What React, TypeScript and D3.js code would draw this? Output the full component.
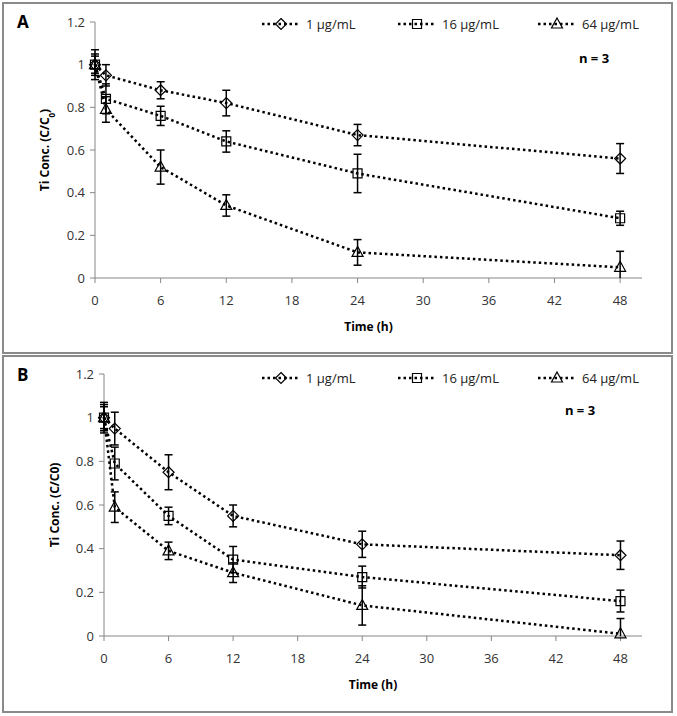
import React, { useEffect, useRef } from 'react';
import * as d3 from 'd3';

// hours
const times = [0, 1, 6, 12, 24, 48];
const seriesNames = ['1 µg/mL', '16 µg/mL', '64 µg/mL'];
const seriesShapes = ['diamond', 'square', 'triangle'];
const xTicks = [0, 6, 12, 18, 24, 30, 36, 42, 48];
const yTicks = [0, 0.2, 0.4, 0.6, 0.8, 1, 1.2];

// panel A
const aLow = [1.0, 0.95, 0.88, 0.82, 0.67, 0.56];
const aMid = [1.0, 0.84, 0.76, 0.64, 0.49, 0.28];
const aHigh = [1.0, 0.79, 0.52, 0.34, 0.12, 0.05];
const aLowErr = [0.07, 0.05, 0.04, 0.06, 0.05, 0.07];
const aMidErr = [0.05, 0.07, 0.045, 0.05, 0.09, 0.033];
const aHighErr = [0.04, 0.06, 0.08, 0.05, 0.06, 0.075];

// panel B
const bLow = [1.0, 0.95, 0.75, 0.55, 0.42, 0.37];
const bMid = [1.0, 0.79, 0.55, 0.35, 0.27, 0.16];
const bHigh = [1.0, 0.59, 0.39, 0.29, 0.14, 0.01];
const bLowErr = [0.07, 0.075, 0.08, 0.05, 0.06, 0.065];
const bMidErr = [0.06, 0.075, 0.04, 0.06, 0.05, 0.05];
const bHighErr = [0.05, 0.07, 0.04, 0.045, 0.09, 0.07];

const FONT = '"Open Sans", sans-serif';

type Panel = {
  letter: string;
  frame: { x: number; y: number; w: number; h: number };
  plot: { left: number; right: number; top: number; bottom: number };
  yTitle: 'sub' | 'plain';
  yTitleX: number;
  values: number[][];
  errors: number[][];
  legendY: number;
  nX: number;
  nY: number;
};

const panels: Panel[] = [
  {
    letter: 'A',
    frame: { x: 3, y: 3, w: 669, h: 350 },
    plot: { left: 95, right: 642, top: 22, bottom: 278 },
    yTitle: 'sub',
    yTitleX: 45,
    values: [aLow, aMid, aHigh],
    errors: [aLowErr, aMidErr, aHighErr],
    legendY: 24,
    nX: 594,
    nY: 58,
  },
  {
    letter: 'B',
    frame: { x: 3, y: 356, w: 669, h: 356 },
    plot: { left: 104, right: 642, top: 374, bottom: 636 },
    yTitle: 'plain',
    yTitleX: 55,
    values: [bLow, bMid, bHigh],
    errors: [bLowErr, bMidErr, bHighErr],
    legendY: 378,
    nX: 580,
    nY: 410,
  },
];

const drawMarker = (g: any, shape: string, cx: number, cy: number) => {
  const m = g.append('path')
    .attr('fill', 'none')
    .attr('stroke', '#000')
    .attr('stroke-width', 1.2);
  if (shape === 'diamond') {
    m.attr('d', `M${cx},${cy - 5.5}L${cx + 5.5},${cy}L${cx},${cy + 5.5}L${cx - 5.5},${cy}Z`);
  } else if (shape === 'square') {
    m.attr('d', `M${cx - 4.5},${cy - 4.5}h9v9h-9Z`);
  } else {
    m.attr('d', `M${cx},${cy - 6}L${cx + 5.5},${cy + 4}L${cx - 5.5},${cy + 4}Z`);
  }
};

const App = () => {
  const ref = useRef<SVGSVGElement>(null);

  useEffect(() => {
    const svg = d3.select(ref.current);
    svg.selectAll('*').remove();

    svg.append('rect').attr('width', 677).attr('height', 716).attr('fill', '#fff');

    panels.forEach(p => {
      const g = svg.append('g');
      g.append('rect')
        .attr('x', p.frame.x).attr('y', p.frame.y)
        .attr('width', p.frame.w).attr('height', p.frame.h)
        .attr('fill', '#fff').attr('stroke', '#8a8a8a').attr('stroke-width', 2);

      const x = d3.scaleLinear().domain([0, 50]).range([p.plot.left, p.plot.right]);
      const y = d3.scaleLinear().domain([0, 1.2]).range([p.plot.bottom, p.plot.top]).clamp(true);

      // axes, Excel style: grey lines, ticks outside
      const axisColor = '#868686';
      g.append('line')
        .attr('x1', x(0)).attr('x2', x(0)).attr('y1', y(0)).attr('y2', y(1.2))
        .attr('stroke', axisColor);
      g.append('line')
        .attr('x1', x(0)).attr('x2', x(50)).attr('y1', y(0)).attr('y2', y(0))
        .attr('stroke', axisColor);

      yTicks.forEach(t => {
        g.append('line')
          .attr('x1', x(0) - 5).attr('x2', x(0)).attr('y1', y(t)).attr('y2', y(t))
          .attr('stroke', axisColor);
        g.append('text')
          .attr('x', x(0) - 10).attr('y', y(t)).attr('dy', '0.35em')
          .attr('text-anchor', 'end')
          .style('font-family', FONT).style('font-size', '13px').attr('fill', '#333')
          .text(d3.format('~g')(t));
      });
      xTicks.forEach(t => {
        g.append('line')
          .attr('x1', x(t)).attr('x2', x(t)).attr('y1', y(0)).attr('y2', y(0) + 5)
          .attr('stroke', axisColor);
        g.append('text')
          .attr('x', x(t)).attr('y', y(0) + 27)
          .attr('text-anchor', 'middle')
          .style('font-family', FONT).style('font-size', '13px').attr('fill', '#333')
          .text(t);
      });

      g.append('text')
        .attr('x', (x(0) + x(50)) / 2).attr('y', y(0) + 53)
        .attr('text-anchor', 'middle')
        .style('font-family', FONT).style('font-size', '12px').style('font-weight', 'bold')
        .text('Time (h)');

      const yt = g.append('text')
        .attr('transform', `translate(${p.yTitleX},${(p.plot.top + p.plot.bottom) / 2}) rotate(-90)`)
        .attr('text-anchor', 'middle').attr('dy', '0.35em')
        .style('font-family', FONT).style('font-size', '12px').style('font-weight', 'bold');
      if (p.yTitle === 'sub') {
        yt.append('tspan').text('Ti Conc. (C/C');
        yt.append('tspan').attr('baseline-shift', 'sub').style('font-size', '8px').text('0');
        yt.append('tspan').text(')');
      } else {
        yt.text('Ti Conc. (C/C0)');
      }

      g.append('text')
        .attr('x', p.frame.x + 14).attr('y', p.frame.y + 25)
        .style('font-family', FONT).style('font-size', '17px').style('font-weight', 'bold')
        .text(p.letter);

      const line = d3.line<number>()
        .x((_, i) => x(times[i]))
        .y(v => y(v));

      p.values.forEach((vals, s) => {
        g.append('path')
          .attr('d', line(vals))
          .attr('fill', 'none').attr('stroke', '#000')
          .attr('stroke-width', 2.5).attr('stroke-dasharray', '2.5,3');

        vals.forEach((v, i) => {
          const e = p.errors[s][i];
          const cx = x(times[i]);
          g.append('line')
            .attr('x1', cx).attr('x2', cx).attr('y1', y(v - e)).attr('y2', y(v + e))
            .attr('stroke', '#000').attr('stroke-width', 1.5);
          [v - e, v + e].forEach(ev => {
            if (ev < 0) return;
            g.append('line')
              .attr('x1', cx - 4).attr('x2', cx + 4).attr('y1', y(ev)).attr('y2', y(ev))
              .attr('stroke', '#000').attr('stroke-width', 1.5);
          });
          drawMarker(g, seriesShapes[s], cx, y(v));
        });
      });

      // legend
      const legendStarts = [262, 398, 538];
      seriesNames.forEach((name, s) => {
        const lx = legendStarts[s];
        g.append('line')
          .attr('x1', lx).attr('x2', lx + 38).attr('y1', p.legendY).attr('y2', p.legendY)
          .attr('stroke', '#000').attr('stroke-width', 2.5).attr('stroke-dasharray', '2.5,3');
        drawMarker(g, seriesShapes[s], lx + 19, p.legendY);
        g.append('text')
          .attr('x', lx + 44).attr('y', p.legendY).attr('dy', '0.35em')
          .style('font-family', FONT).style('font-size', '13px').attr('fill', '#222')
          .text(name);
      });

      g.append('text')
        .attr('x', p.nX).attr('y', p.nY).attr('dy', '0.35em')
        .attr('text-anchor', 'middle')
        .style('font-family', FONT).style('font-size', '13px').style('font-weight', 'bold')
        .text('n = 3');
    });
  }, []);

  return (
    <div style={{ position: 'absolute', left: 0, top: 0 }}>
      <svg ref={ref} width={677} height={716} style={{ display: 'block' }} />
    </div>
  );
};

export default App;
